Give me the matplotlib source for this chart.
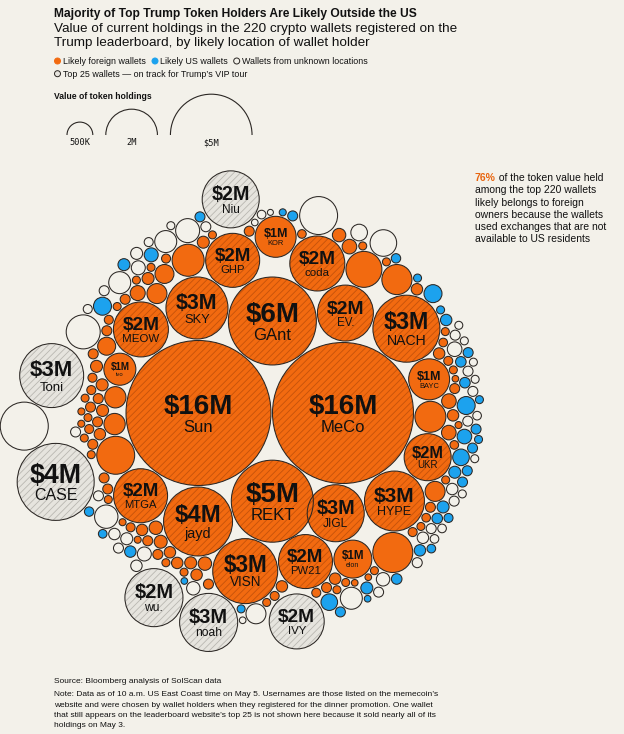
"""Packed-bubble chart: Trump token holders by likely wallet location."""

import numpy as np
import matplotlib.pyplot as plt
from matplotlib.patches import Arc, Circle

plt.rcParams["font.family"] = ["Liberation Sans", "DejaVu Sans"]
plt.rcParams["hatch.linewidth"] = 0.6

# ---------------------------------------------------------------- data
# Named / larger wallets. Values in $M.
wallet_ids = ["Sun", "MeCo", "GAnt", "REKT", "SKY", "MEOW", "ivo", "GHP", "EV.", "coda",
              "KOR", "NACH", "BAYC", "o1", "UKR", "HYPE", "JIGL", "jayd", "MTGA", "VISN",
              "PW21", "elon", "o2", "o3", "o4", "o5", "o6",
              "Niu", "Toni", "CASE", "wu.", "noah", "IVY", "w1", "w2"]
wallet_values = [15.78, 14.92, 5.81, 5.05, 2.89, 2.27, 0.77, 2.19, 2.35, 2.27,
                 1.26, 3.37, 1.26, 0.72, 1.66, 2.70, 2.44, 3.57, 2.19, 3.17,
                 2.19, 1.08, 1.20, 0.97, 0.68, 0.77, 1.08,
                 2.44, 3.07, 4.45, 2.53, 2.53, 2.27, 1.73, 1.08]
wallet_groups = ["F"] * 27 + ["N"] * 8
wallet_top25 = ["Sun", "MeCo", "GAnt", "REKT", "SKY", "MEOW", "GHP", "EV.", "coda", "NACH",
                "UKR", "HYPE", "JIGL", "jayd", "MTGA", "VISN", "PW21",
                "Niu", "Toni", "CASE", "wu.", "noah", "IVY"]
wallet_labels = {"Sun": "$16M", "MeCo": "$16M", "GAnt": "$6M", "REKT": "$5M", "SKY": "$3M",
                 "MEOW": "$2M", "ivo": "$1M", "GHP": "$2M", "EV.": "$2M", "coda": "$2M",
                 "KOR": "$1M", "NACH": "$3M", "BAYC": "$1M", "UKR": "$2M", "HYPE": "$3M",
                 "JIGL": "$3M", "jayd": "$4M", "MTGA": "$2M", "VISN": "$3M", "PW21": "$2M",
                 "elon": "$1M", "Niu": "$2M", "Toni": "$3M", "CASE": "$4M", "wu.": "$2M",
                 "noah": "$3M", "IVY": "$2M"}

# Remaining small wallets, grouped by the side of the cluster where they sit.
# F = likely foreign, U = likely US, N = unknown location
zone_a_values = [0.300, 0.270, 0.243, 0.169, 0.108, 0.108, 0.108, 0.075, 0.075, 0.075, 0.061,
                 0.061, 0.048, 0.048, 0.048, 0.048,
                 0.868, 0.432, 0.363, 0.363, 0.243, 0.147, 0.147, 0.108, 0.108, 0.075, 0.075,
                 0.075, 0.061, 0.061, 0.048]
zone_a_groups = ["F"] * 16 + ["N", "N", "N", "N", "U", "N", "U", "N", "U", "N", "N", "U",
                              "N", "N", "N"]

zone_b_values = [0.340, 0.340, 0.108, 0.108, 0.098, 0.075, 0.075, 0.075, 0.075, 0.075, 0.061,
                 0.061, 0.061, 0.048, 0.048, 0.048, 0.048, 0.037, 0.037, 0.075]
zone_b_groups = ["F"] * 19 + ["N"]

zone_c_values = [0.135, 0.135, 0.127, 0.108, 0.098, 0.098, 0.098, 0.098, 0.075, 0.075, 0.075,
                 0.061, 0.048, 0.048, 0.048, 0.037, 0.037,
                 0.410, 0.147, 0.135, 0.108, 0.098, 0.098, 0.098, 0.075, 0.075, 0.066, 0.056,
                 0.033]
zone_c_groups = ["F"] * 17 + ["N", "N", "N", "N", "U", "N", "N", "N", "N", "U", "U", "U"]

zone_d_values = [0.098, 0.098, 0.075, 0.075, 0.061, 0.061, 0.048, 0.048, 0.048, 0.048, 0.033,
                 0.033,
                 0.363, 0.300, 0.207, 0.135, 0.108, 0.098, 0.084, 0.075, 0.075, 0.075, 0.056,
                 0.048, 0.033, 0.033]
zone_d_groups = ["F"] * 12 + ["N", "N", "U", "N", "U", "U", "U", "N", "N", "U", "U", "U",
                              "N", "U"]

zone_e_values = [0.300, 0.160, 0.160, 0.098, 0.098, 0.075, 0.075, 0.061, 0.061, 0.056, 0.056,
                 0.056, 0.048, 0.048, 0.048, 0.037, 0.033,
                 0.243, 0.207, 0.160, 0.160, 0.108, 0.108, 0.098, 0.098, 0.084, 0.084, 0.084,
                 0.075, 0.075, 0.075, 0.075, 0.075, 0.075, 0.075, 0.075, 0.075, 0.075, 0.075,
                 0.061, 0.056, 0.056, 0.056, 0.048, 0.048, 0.048, 0.048, 0.048, 0.048, 0.048,
                 0.048, 0.037]
zone_e_groups = ["F"] * 17 + ["U", "U", "N", "U", "U", "U", "N", "N", "U", "U", "U", "N",
                              "N", "N", "N", "N", "N", "U", "U", "U", "U", "U", "U", "N",
                              "N", "N", "N", "N", "N", "N", "N", "N", "U", "U"]

zone_f_values = [0.160, 0.135, 0.098, 0.075, 0.056, 0.048, 0.048, 0.048,
                 0.530, 0.243, 0.207, 0.098, 0.075, 0.066, 0.056, 0.048, 0.048, 0.037,
                 0.033, 0.027]
zone_f_groups = ["F"] * 8 + ["N", "U", "N", "U", "U", "U", "N", "U", "U", "U", "N", "N"]

legend_values = [0.5, 2.0, 5.0]
legend_texts = ["500K", "2M", "$5M"]

# ---------------------------------------------------------------- style / scale
BG = "#f3f1ea"
FILL = {"F": "#f26a10", "U": "#1ca2ee", "N": BG}
EDGE = "#2b2724"
GRAY = "#e6e4de"
K = 18.25   # pixels per sqrt($M)
PAD = 1.5


def radius(v):
    return K * np.sqrt(v)


# ---------------------------------------------------------------- layout
pos = {}
rad = {wid: radius(v) for wid, v in zip(wallet_ids, wallet_values)}


def tangent(a, b, r, side, ga=0.0, gb=0.0):
    """Centre of a circle touching circles a and b (with optional extra gaps)."""
    (xa, ya), (xb, yb) = pos[a], pos[b]
    da, db = rad[a] + r + PAD + ga, rad[b] + r + PAD + gb
    dx, dy = xb - xa, yb - ya
    d = np.hypot(dx, dy)
    t = (da ** 2 - db ** 2 + d ** 2) / (2 * d)
    h = np.sqrt(max(da ** 2 - t ** 2, 0.0))
    ux, uy = dx / d, dy / d
    return np.array([xa + t * ux - side * h * uy, ya + t * uy + side * h * ux])


pos["Sun"] = np.array([0.0, 0.0])
pos["MeCo"] = np.array([rad["Sun"] + rad["MeCo"] + PAD, 0.0])

core_chain = [
    ("GAnt", "Sun", "MeCo", 1), ("REKT", "Sun", "MeCo", -1), ("SKY", "Sun", "GAnt", 1),
    ("MEOW", "Sun", "SKY", 1), ("ivo", "Sun", "MEOW", 1), ("GHP", "SKY", "GAnt", 1),
    ("EV.", "GAnt", "MeCo", 1), ("coda", "GAnt", "EV.", 1), ("KOR", "GHP", "coda", 1),
    ("NACH", "EV.", "MeCo", 1), ("BAYC", "NACH", "MeCo", 1), ("o1", "BAYC", "MeCo", 1),
    ("UKR", "o1", "MeCo", 1), ("HYPE", "UKR", "MeCo", 1), ("JIGL", "HYPE", "MeCo", 1),
    ("jayd", "Sun", "REKT", -1), ("MTGA", "Sun", "jayd", -1), ("VISN", "jayd", "REKT", -1),
    ("PW21", "VISN", "JIGL", -1), ("elon", "PW21", "JIGL", -1), ("o2", "elon", "HYPE", -1),
    ("o3", "coda", "EV.", 1), ("o4", "o3", "NACH", 1), ("o5", "SKY", "GHP", 1),
    ("o6", "Sun", "MTGA", -1)]
for wid, a, b, side in core_chain:
    pos[wid] = tangent(a, b, rad[wid], side)
core_ids = {"Sun", "MeCo"} | {c[0] for c in core_chain}

# outer ring: wallets held off the core by the small wallets
outer_chain = [("Niu", "GHP", "KOR", 1, 4, 8), ("Toni", "MEOW", "ivo", -1, 39.5, 19),
               ("CASE", "o6", "MTGA", -1, 6.7, 19), ("w1", "Toni", "CASE", -1, 0, 0),
               ("noah", "VISN", "jayd", 1, 0, 36.5), ("wu.", "noah", "jayd", 1, 0.5, 23),
               ("IVY", "VISN", "PW21", -1, 10.5, 4.5), ("w2", "KOR", "coda", 1, 7, 0)]
for wid, a, b, side, ga, gb in outer_chain:
    pos[wid] = tangent(a, b, rad[wid], side, ga, gb)

center = (pos["Sun"] + pos["MeCo"]) / 2
circles = [(wid, pos[wid][0], pos[wid][1], rad[wid]) for wid in pos]


def fill(r, a0, a1):
    """Nearest free spot just outside the core, searching rays in [a0, a1] degrees."""
    ang = np.radians(np.linspace(a0, a1, 400))
    dirs = np.column_stack([np.cos(ang), np.sin(ang)])
    arr = np.array([[c[1], c[2], c[3]] for c in circles])
    is_core = np.array([c[0] in core_ids for c in circles])
    P = arr[:, :2] - center
    R = arr[:, 2] + r + PAD
    b = dirs @ P.T
    disc = R ** 2 - ((P ** 2).sum(1) - b ** 2)
    hit = disc > 0
    s = np.sqrt(np.clip(disc, 0, None))
    t1 = np.where(hit, b - s, np.inf)
    t2 = np.where(hit, b + s, -np.inf)
    t = np.maximum(np.where(is_core, t2, -np.inf).max(axis=1), 0)
    for _ in range(200):
        inside = (t1 < t[:, None]) & (t2 > t[:, None])
        if not inside.any():
            break
        t = np.where(inside.any(axis=1), np.where(inside, t2, -np.inf).max(axis=1), t)
    i = int(np.argmin(t))
    return center + t[i] * dirs[i]


zones = [(zone_a_values, zone_a_groups, (103, 165)), (zone_f_values, zone_f_groups, (25, 103)),
         (zone_e_values, zone_e_groups, (320, 385)), (zone_d_values, zone_d_groups, (250, 320)),
         (zone_c_values, zone_c_groups, (205, 250)), (zone_b_values, zone_b_groups, (165, 205))]
group_of = dict(zip(wallet_ids, wallet_groups))
n_small = 0
for vals, grps, (a0, a1) in zones:
    for v, g in zip(vals, grps):
        r = radius(v)
        p = fill(r, a0, a1)
        key = f"s{n_small}"
        n_small += 1
        group_of[key] = g
        circles.append((key, p[0], p[1], r))

# ---------------------------------------------------------------- figure
W, H = 624, 734
X0, Y0 = 198.5, 413          # pixel position of the first bubble
fig = plt.figure(figsize=(W / 100, H / 100), dpi=100, facecolor=BG)
ax = fig.add_axes([0, 0, 1, 1])
ax.set_xlim(-X0, W - X0)
ax.set_ylim(Y0 - H, Y0)
ax.axis("off")


def d(px, py):
    return px - X0, Y0 - py


for wid, x, y, r in circles:
    g = group_of[wid]
    top = wid in wallet_top25
    face = GRAY if (top and g == "N") else FILL[g]
    ax.add_patch(Circle((x, y), r, facecolor=face, edgecolor="none", zorder=2))
    if top:
        hcol = "#b9b7b1" if g == "N" else "#c4520b"
        ax.add_patch(Circle((x, y), r, facecolor="none", edgecolor=hcol, hatch="/////",
                            linewidth=0, zorder=3))
    ax.add_patch(Circle((x, y), r, facecolor="none", edgecolor=EDGE, linewidth=0.75, zorder=4))
    if wid in wallet_labels:
        fs = min(0.5 * r, 20) if r >= 22 else 0.44 * r
        fpx = fs * 100 / 72
        ax.text(x, y - 0.03 * fpx, wallet_labels[wid], ha="center", va="baseline",
                fontsize=fs, fontweight="bold", color="#111111", zorder=5)
        ax.text(x, y - 0.68 * fpx, wid, ha="center", va="baseline",
                fontsize=0.6 * fs, color="#111111", zorder=5)

# ---------------------------------------------------------------- header
def fx(px):
    return px / W


def fy(py):
    return 1 - py / H


fig.text(fx(54.5), fy(17.5), "Majority of Top Trump Token Holders Are Likely Outside the US",
         fontsize=8.65, fontweight="bold", color="#111111")
fig.text(fx(54.5), fy(31.7), "Value of current holdings in the 220 crypto wallets registered on the",
         fontsize=9.7, color="#111111")
fig.text(fx(54.5), fy(45.7), "Trump leaderboard, by likely location of wallet holder",
         fontsize=9.7, color="#111111")

legend_items = [(57.5, 64, FILL["F"], "Likely foreign wallets", 62.8),
                (155, 64, FILL["U"], "Likely US wallets", 160.3),
                (236.7, 64, BG, "Wallets from unknown locations", 242.3),
                (57.5, 76.7, GRAY, "Top 25 wallets \u2014 on track for Trump\u2019s VIP tour", 63)]
for cx, by, col, txt, tx in legend_items:
    ax.add_patch(Circle(d(cx, by - 3), 3.0, facecolor=col,
                        edgecolor=EDGE if col in (BG, GRAY) else col, linewidth=0.7))
    fig.text(fx(tx), fy(by), txt, fontsize=6.4, color="#111111")

fig.text(fx(54.5), fy(99.3), "Value of token holdings", fontsize=6.2, fontweight="bold",
         color="#111111")
left = 67
for v, lab in zip(legend_values, legend_texts):
    r = radius(v)
    cx = left + r
    ax.add_patch(Arc(d(cx, 135), 2 * r, 2 * r, theta1=0, theta2=180, color=EDGE, linewidth=0.8))
    ax.text(*d(cx, 145.3), lab, ha="center", va="baseline", fontsize=6.2,
            family="DejaVu Sans Mono", color="#111111")
    left = cx + r + 13

# ---------------------------------------------------------------- annotation
ann_lines = ["of the token value held", "among the top 220 wallets", "likely belongs to foreign",
             "owners because the wallets", "used exchanges that are not",
             "available to US residents"]
renderer = fig.canvas.get_renderer()
pct = fig.text(fx(474.7), fy(181.3), "76%", fontsize=7.5, fontweight="bold", color="#e8650f")
bb = pct.get_window_extent(renderer=renderer)
for i, line in enumerate(ann_lines):
    if i == 0:
        fig.text(bb.x1 / W, fy(181.3), " " + line, fontsize=7.5, color="#111111")
    else:
        fig.text(fx(474.7), fy(181.3 + 12.1 * i), line, fontsize=7.5, color="#111111")

# ---------------------------------------------------------------- footer
fig.text(fx(54.5), fy(682.7), "Source: Bloomberg analysis of SolScan data", fontsize=6.05,
         color="#111111")
notes = ["Note: Data as of 10 a.m. US East Coast time on May 5. Usernames are those listed on the memecoin\u2019s",
         "website and were chosen by wallet holders when they registered for the dinner promotion. One wallet",
         "that still appears on the leaderboard website\u2019s top 25 is not shown here because it sold nearly all of its",
         "holdings on May 3."]
for i, line in enumerate(notes):
    fig.text(fx(54.5), fy(696.3 + 10.35 * i), line, fontsize=6.05, color="#111111")

fig.savefig("out.png", dpi=100, facecolor=BG)
